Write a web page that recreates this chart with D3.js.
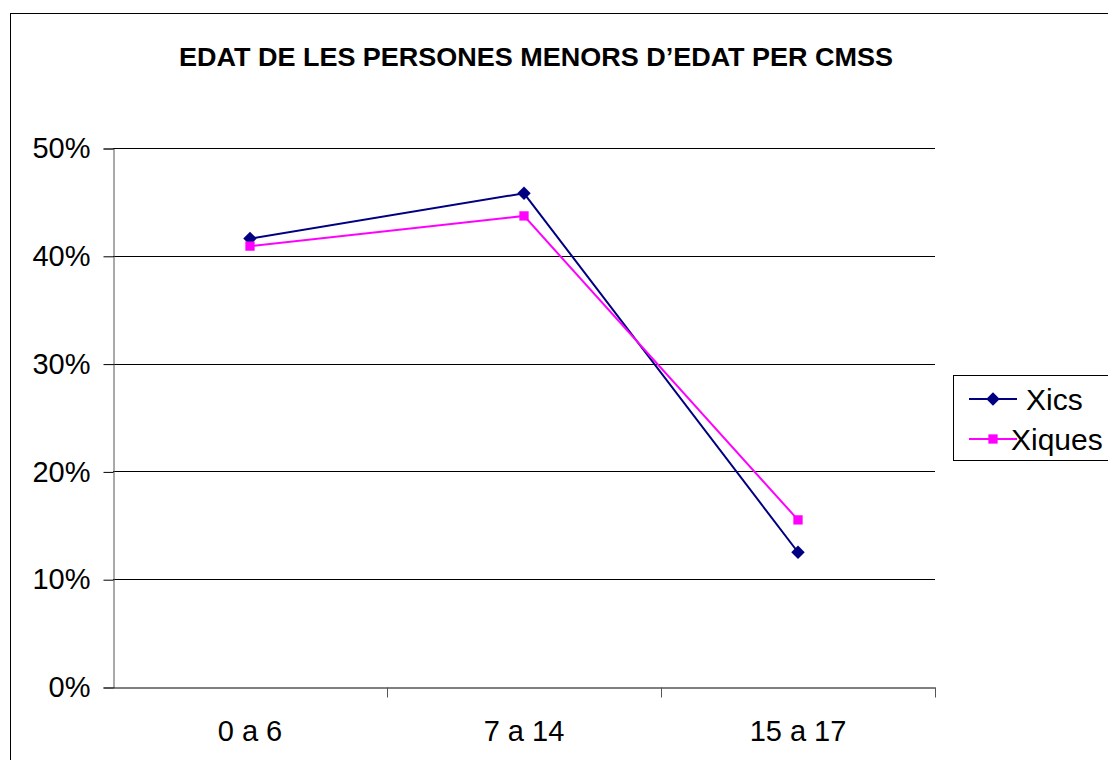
<!DOCTYPE html>
<html>
<head>
<meta charset="utf-8">
<script src="https://cdn.jsdelivr.net/npm/d3@7"></script>
<style>
  html, body { margin: 0; padding: 0; background: #fff; }
  svg text { font-family: "Liberation Sans", Arial, sans-serif; }
</style>
</head>
<body>
<div id="chart"></div>
<script>
// data
const categories = ['0 a 6', '7 a 14', '15 a 17'];
const xics = [0.416, 0.458, 0.125];
const xiques = [0.409, 0.437, 0.155];
const yTicks = [0, 0.1, 0.2, 0.3, 0.4, 0.5];
const seriesNames = ['Xics', 'Xiques'];

const W = 1108, H = 760;
const plot = { left: 113, right: 935, top: 148, bottom: 687 };

const svg = d3.select('#chart').append('svg')
  .attr('width', W).attr('height', H);

// outer frame (right/bottom edges fall outside the picture)
svg.append('rect')
  .attr('x', 10.5).attr('y', 13.5)
  .attr('width', W + 20).attr('height', H + 20)
  .attr('fill', 'none').attr('stroke', '#000').attr('stroke-width', 1);

svg.append('text')
  .attr('x', 536).attr('y', 66)
  .attr('text-anchor', 'middle')
  .attr('font-size', 26).attr('font-weight', 'bold')
  .attr('textLength', 714).attr('lengthAdjust', 'spacingAndGlyphs')
  .text('EDAT DE LES PERSONES MENORS D\u2019EDAT PER CMSS');

const x = d3.scaleBand().domain(categories).range([plot.left, plot.right]);
const y = d3.scaleLinear().domain([0, 0.5]).range([plot.bottom, plot.top]);

// gridlines
svg.append('g')
  .selectAll('line').data(yTicks.filter(d => d > 0)).join('line')
  .attr('x1', plot.left).attr('x2', plot.right)
  .attr('y1', d => Math.round(y(d)) + 0.5).attr('y2', d => Math.round(y(d)) + 0.5)
  .attr('stroke', '#000').attr('stroke-width', 1);

// y axis
const yAxis = d3.axisLeft(y).tickValues(yTicks)
  .tickFormat(d3.format('.0%')).tickSize(10).tickPadding(13);
const gy = svg.append('g')
  .attr('transform', 'translate(' + (plot.left + 0.5) + ',0.5)')
  .call(yAxis);
gy.select('.domain').attr('stroke', '#555');
gy.selectAll('.tick line').attr('stroke', '#000');
gy.selectAll('.tick text')
  .attr('font-size', 29).attr('fill', '#000')
  .attr('font-family', '"Liberation Sans", Arial, sans-serif');

// x axis with ticks on category boundaries
const xAxis = d3.axisBottom(x).tickSize(0).tickPadding(33);
const gx = svg.append('g')
  .attr('transform', 'translate(0,' + (plot.bottom + 0.5) + ')')
  .call(xAxis);
gx.select('.domain').attr('stroke', '#000');
gx.selectAll('.tick text')
  .attr('font-size', 29).attr('fill', '#000')
  .attr('font-family', '"Liberation Sans", Arial, sans-serif');
gx.selectAll('line.sep')
  .data(categories.map(c => x(c) + x.bandwidth()))
  .join('line').attr('class', 'sep')
  .attr('x1', d => Math.round(d) + 0.5).attr('x2', d => Math.round(d) + 0.5)
  .attr('y1', 0).attr('y2', 10)
  .attr('stroke', '#555');

const cx = c => x(c) + x.bandwidth() / 2;

const series = [
  { name: seriesNames[0], values: xics, color: '#000080', symbol: d3.symbolDiamond2, size: 115 },
  { name: seriesNames[1], values: xiques, color: '#ff00ff', symbol: d3.symbolSquare2, size: 110 }
];

const line = d3.line().x(d => cx(d.c)).y(d => y(d.v));

series.forEach(s => {
  const pts = categories.map((c, i) => ({ c: c, v: s.values[i] }));
  svg.append('path')
    .datum(pts)
    .attr('d', line)
    .attr('fill', 'none')
    .attr('stroke', s.color)
    .attr('stroke-width', 2);
});
series.forEach(s => {
  const pts = categories.map((c, i) => ({ c: c, v: s.values[i] }));
  svg.append('g').selectAll('path').data(pts).join('path')
    .attr('transform', d => 'translate(' + cx(d.c) + ',' + y(d.v) + ')')
    .attr('d', d3.symbol().type(s.symbol).size(s.size))
    .attr('fill', s.color);
});

// legend
const lg = svg.append('g');
lg.append('rect')
  .attr('x', 953.5).attr('y', 375.5)
  .attr('width', 200).attr('height', 85)
  .attr('fill', '#fff').attr('stroke', '#000').attr('stroke-width', 1);
const legendY = [399, 439];
const textX = [1026, 1011];
series.forEach((s, i) => {
  lg.append('line')
    .attr('x1', 969).attr('x2', 1017)
    .attr('y1', legendY[i]).attr('y2', legendY[i])
    .attr('stroke', s.color).attr('stroke-width', 2);
  lg.append('path')
    .attr('transform', 'translate(993,' + legendY[i] + ')')
    .attr('d', d3.symbol().type(s.symbol).size(s.size))
    .attr('fill', s.color);
  lg.append('text')
    .attr('x', textX[i]).attr('y', legendY[i] + 11)
    .attr('font-size', 30).attr('fill', '#000')
    .text(s.name);
});
</script>
</body>
</html>
